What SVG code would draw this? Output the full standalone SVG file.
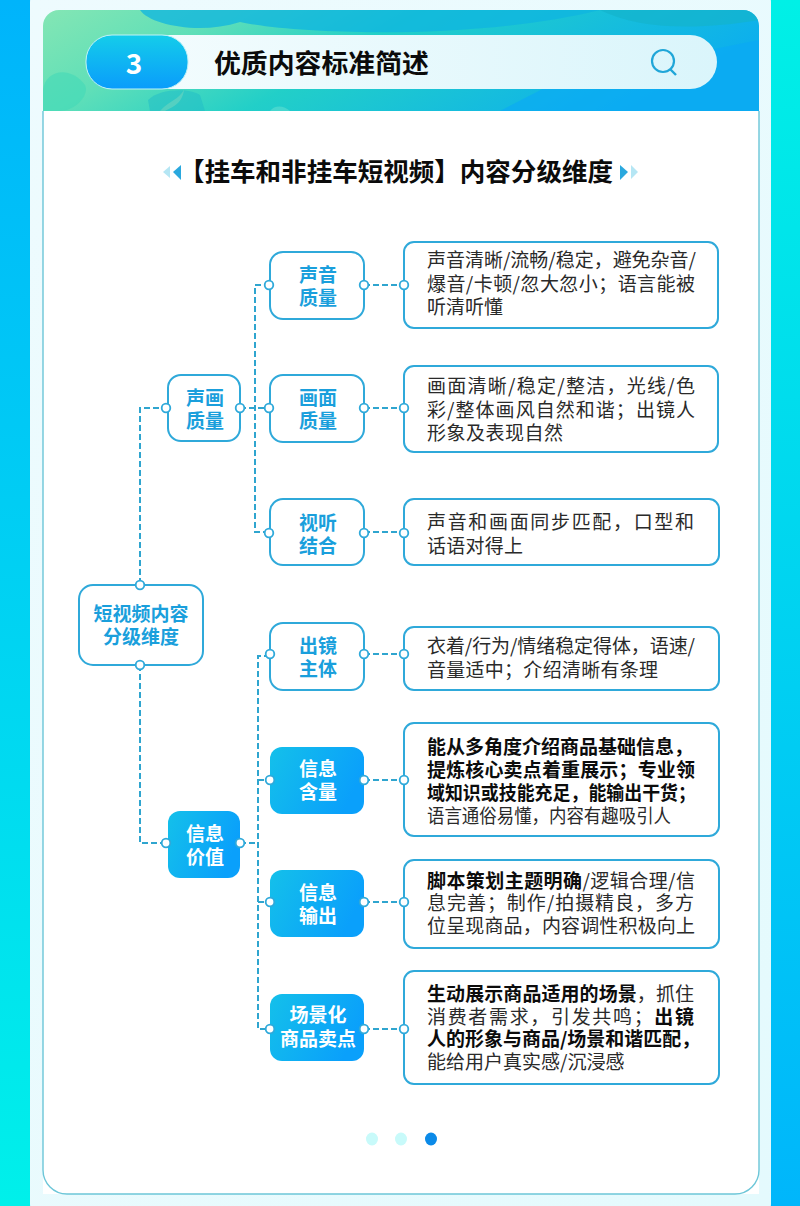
<svg xmlns="http://www.w3.org/2000/svg" width="800" height="1206" viewBox="0 0 800 1206">
<defs>
<linearGradient id="bandL" x1="0" y1="0" x2="0" y2="1"><stop offset="0" stop-color="#00b4fb"/><stop offset="1" stop-color="#00f0ea"/></linearGradient>
<linearGradient id="bandR" x1="0" y1="0" x2="0" y2="1"><stop offset="0" stop-color="#00f0e6"/><stop offset="1" stop-color="#00b6fb"/></linearGradient>
<linearGradient id="panel" x1="0" y1="0" x2="1" y2="1"><stop offset="0" stop-color="#eefbfe"/><stop offset="1" stop-color="#e4fafd"/></linearGradient>
<linearGradient id="head" x1="0" y1="0" x2="1" y2="0.25"><stop offset="0" stop-color="#84e6b4"/><stop offset="0.25" stop-color="#5fdfb8"/><stop offset="0.5" stop-color="#22cfc8"/><stop offset="1" stop-color="#0db0ec"/></linearGradient>
<linearGradient id="fill" x1="0" y1="0" x2="1" y2="0.35"><stop offset="0" stop-color="#14c0ea"/><stop offset="1" stop-color="#0aa0fb"/></linearGradient>
<linearGradient id="num" x1="0" y1="0" x2="0" y2="1"><stop offset="0" stop-color="#14cdea"/><stop offset="1" stop-color="#0a9cfb"/></linearGradient>
<linearGradient id="bar" x1="0" y1="0" x2="1" y2="0"><stop offset="0" stop-color="#f6fdfe"/><stop offset="1" stop-color="#daf5fb"/></linearGradient>
<clipPath id="headClip"><path d="M43 111V26a16 16 0 0 1 16-16H743a16 16 0 0 1 16 16V111Z"/></clipPath>
</defs>
<style>
text{font-family:"Noto Sans CJK SC","Noto Sans",sans-serif}
.n{fill:#fff;stroke:#2fa9da;stroke-width:2}
.f{fill:url(#fill)}
.a{fill:#fff;stroke:#2fa9da;stroke-width:2}
.l{font-size:19px;font-weight:700;fill:#1a9fdc;text-anchor:middle}
.lw{font-size:19px;font-weight:700;fill:#fff;text-anchor:middle}
.t{font-size:19px;fill:#2a2a2a}
.t .b,.b{font-weight:700;fill:#0c0c0c}
.c{fill:none;stroke:#2fa5cf;stroke-width:2;stroke-dasharray:6 3}
.d{fill:#fff;stroke:#2fa9da;stroke-width:1.8}
</style>
<rect width="800" height="1206" fill="#fff"/>
<rect x="0" y="0" width="31" height="1206" fill="url(#bandL)"/>
<rect x="770" y="0" width="30" height="1206" fill="url(#bandR)"/>
<rect x="30" y="-10" width="741" height="1226" rx="12" fill="url(#panel)"/>
<g id="header">
<g clip-path="url(#headClip)">
<rect x="43" y="10" width="716" height="101" fill="url(#head)"/>
<path d="M140 10C150 25 200 35 240 22C300 35 480 40 600 10Z" fill="#0fb4e0" opacity=".75"/>
<path d="M600 10C640 30 700 30 759 20V10Z" fill="#14b4cc" opacity=".7"/>
<path d="M43 90C45 70 70 65 85 85C90 95 75 111 60 111H43Z" fill="#3fd8b8" opacity=".55"/>
<path d="M160 111C170 100 178 100 184 90C182 105 170 108 165 111Z" fill="#9be8b8" opacity=".8"/>
<path d="M148 100C160 88 190 88 200 95L205 111H150Z" fill="#20bcc8" opacity=".5"/>
<path d="M500 111L560 80L759 40V111Z" fill="#0aa8f6" opacity=".6"/>
<path d="M270 111C275 104 285 106 290 111Z" fill="#55dcd0" opacity=".7"/>
</g>
<rect x="86" y="35" width="631" height="54" rx="27" fill="url(#bar)"/>
<rect x="86" y="35" width="102" height="54" rx="26" fill="url(#num)" stroke="#bff2f6" stroke-width="1"/>
<text x="134" y="74" font-size="28" font-weight="700" fill="#fff" text-anchor="middle">3</text>
<text x="214" y="73" font-size="26" font-weight="700" fill="#0b0b0b" textLength="215" lengthAdjust="spacingAndGlyphs">优质内容标准简述</text>
<circle cx="663" cy="61" r="11" fill="none" stroke="#20a6d8" stroke-width="2.2"/>
<path d="M670 69L676 75" stroke="#20a6d8" stroke-width="2.4" fill="none"/>
</g>
<rect x="43" y="111" width="716" height="1083" fill="#fff"/>
<path d="M43 111V1170a24 24 0 0 0 24 24H735a24 24 0 0 0 24-24V111" fill="none" stroke="#6cc6d8" stroke-width="1.4"/>
<g id="title">
<path d="M170 166L163 172L170 178Z" fill="#b5e6f4"/>
<path d="M181 165L173 172L181 180Z" fill="#2aa8de"/>
<text x="179" y="181" font-size="25.5" font-weight="700" fill="#0b0b0b" textLength="434" lengthAdjust="spacingAndGlyphs">【挂车和非挂车短视频】内容分级维度</text>
<path d="M620 165L628 172L620 180Z" fill="#2aa8de"/>
<path d="M631 165L638 172L631 179Z" fill="#b5e6f4"/>
</g>
<g id="connectors">
<path class="c" d="M168 408H140V585"/>
<path class="c" d="M140 665V843H168"/>
<path class="c" d="M240 408H270"/>
<path class="c" d="M270 285H255V532H270"/>
<path class="c" d="M240 843H258"/>
<path class="c" d="M270 656H258V1029H270"/>
<path class="c" d="M258 780H270"/>
<path class="c" d="M258 902H270"/>
<path class="c" d="M364 285H404"/>
<path class="c" d="M364 408H404"/>
<path class="c" d="M364 532H404"/>
<path class="c" d="M364 654H404"/>
<path class="c" d="M364 780H404"/>
<path class="c" d="M364 902H404"/>
<path class="c" d="M364 1029H404"/>
</g>
<g id="root"><rect class="n" x="79" y="585" width="124" height="80" rx="14"/><text class="l" x="141" y="621" font-size="19.5">短视频内容</text><text class="l" x="141" y="644">分级维度</text></g>
<g id="n-shenghua"><rect class="n" x="168" y="375" width="72" height="66" rx="13"/><text class="l" x="205" y="405">声画</text><text class="l" x="205" y="428">质量</text></g>
<g id="n-xinxi"><rect class="f" x="168" y="811" width="72" height="67" rx="12"/><text class="lw" x="205" y="841">信息</text><text class="lw" x="205" y="864">价值</text></g>
<g id="m1"><rect class="n" x="270" y="252" width="94" height="67" rx="13"/><text class="l" x="318" y="282">声音</text><text class="l" x="318" y="305">质量</text></g>
<g id="m2"><rect class="n" x="270" y="375" width="94" height="67" rx="13"/><text class="l" x="318" y="405">画面</text><text class="l" x="318" y="428">质量</text></g>
<g id="m3"><rect class="n" x="270" y="499" width="94" height="66" rx="13"/><text class="l" x="318" y="530">视听</text><text class="l" x="318" y="553">结合</text></g>
<g id="m4"><rect class="n" x="270" y="623" width="94" height="67" rx="13"/><text class="l" x="318" y="653">出镜</text><text class="l" x="318" y="676">主体</text></g>
<g id="m5"><rect class="f" x="270" y="747" width="94" height="67" rx="12"/><text class="lw" x="318" y="776">信息</text><text class="lw" x="318" y="799">含量</text></g>
<g id="m6"><rect class="f" x="270" y="870" width="94" height="67" rx="12"/><text class="lw" x="318" y="900">信息</text><text class="lw" x="318" y="923">输出</text></g>
<g id="m7"><rect class="f" x="270" y="994" width="94" height="67" rx="12"/><text class="lw" x="318" y="1022">场景化</text><text class="lw" x="318" y="1046">商品卖点</text></g>
<g id="a1"><rect class="a" x="404" y="242" width="314" height="86" rx="10"/><text class="t" x="427" y="267" textLength="269">声音清晰/流畅/稳定，避免杂音/</text><text class="t" x="427" y="291" textLength="268">爆音/卡顿/忽大忽小；语言能被</text><text class="t" x="427" y="314">听清听懂</text></g>
<g id="a2"><rect class="a" x="404" y="366" width="314" height="86" rx="10"/><text class="t" x="427" y="393" textLength="268">画面清晰/稳定/整洁，光线/色</text><text class="t" x="427" y="417" textLength="268">彩/整体画风自然和谐；出镜人</text><text class="t" x="427" y="440" textLength="136">形象及表现自然</text></g>
<g id="a3"><rect class="a" x="404" y="499" width="315" height="66" rx="10"/><text class="t" x="427" y="529" textLength="267">声音和画面同步匹配，口型和</text><text class="t" x="427" y="553" textLength="96">话语对得上</text></g>
<g id="a4"><rect class="a" x="404" y="627" width="315" height="63" rx="10"/><text class="t" x="427" y="653" textLength="268">衣着/行为/情绪稳定得体，语速/</text><text class="t" x="427" y="677" textLength="231">音量适中；介绍清晰有条理</text></g>
<g id="a5"><rect class="a" x="404" y="723" width="315" height="113" rx="10"/><text class="t b" x="427" y="754">能从多角度介绍商品基础信息，</text><text class="t b" x="427" y="777" textLength="268">提炼核心卖点着重展示；专业领</text><text class="t b" x="427" y="800" textLength="269" lengthAdjust="spacingAndGlyphs">域知识或技能充足，能输出干货；</text><text class="t" x="427" y="823" textLength="244" lengthAdjust="spacingAndGlyphs">语言通俗易懂，内容有趣吸引人</text></g>
<g id="a6"><rect class="a" x="404" y="860" width="315" height="88" rx="10"/><text class="t" x="427" y="888" textLength="268"><tspan class="b">脚本策划主题明确</tspan>/逻辑合理/信</text><text class="t" x="427" y="910" textLength="267">息完善；制作/拍摄精良，多方</text><text class="t" x="427" y="933" textLength="268">位呈现商品，内容调性积极向上</text></g>
<g id="a7"><rect class="a" x="404" y="971" width="315" height="113" rx="10"/><text class="t" x="427" y="1001" textLength="267"><tspan class="b">生动展示商品适用的场景</tspan>，抓住</text><text class="t" x="427" y="1024" textLength="267">消费者需求，引发共鸣；<tspan class="b">出镜</tspan></text><text class="t b" x="427" y="1046">人的形象与商品/场景和谐匹配，</text><text class="t" x="427" y="1069">能给用户真实感/沉浸感</text></g>
<g id="ports">
<circle class="d" cx="140" cy="585" r="4.3"/><circle class="d" cx="140" cy="665" r="4.3"/>
<circle class="d" cx="166" cy="408" r="4.3"/><circle class="d" cx="240" cy="408" r="4.3"/>
<circle class="d" cx="166" cy="843" r="4.3"/><circle class="d" cx="240" cy="843" r="4.3"/>
<circle class="d" cx="269" cy="285" r="4.3"/><circle class="d" cx="269" cy="408" r="4.3"/><circle class="d" cx="269" cy="533" r="4.3"/><circle class="d" cx="270" cy="654" r="4.3"/><circle class="d" cx="270" cy="780" r="4.3"/><circle class="d" cx="270" cy="902" r="4.3"/><circle class="d" cx="270" cy="1029" r="4.3"/>
<circle class="d" cx="364" cy="285" r="4.3"/><circle class="d" cx="364" cy="408" r="4.3"/><circle class="d" cx="364" cy="533" r="4.3"/><circle class="d" cx="364" cy="654" r="4.3"/><circle class="d" cx="364" cy="780" r="4.3"/><circle class="d" cx="364" cy="902" r="4.3"/><circle class="d" cx="364" cy="1029" r="4.3"/>
<circle class="d" cx="404" cy="285" r="4.3"/><circle class="d" cx="404" cy="408" r="4.3"/><circle class="d" cx="404" cy="533" r="4.3"/><circle class="d" cx="404" cy="654" r="4.3"/><circle class="d" cx="404" cy="780" r="4.3"/><circle class="d" cx="404" cy="902" r="4.3"/><circle class="d" cx="404" cy="1029" r="4.3"/>
</g>
<g id="pager"><ellipse cx="372" cy="1139" rx="6" ry="6.5" fill="#c8fafa"/><ellipse cx="401" cy="1139" rx="6" ry="6.5" fill="#c8fafa"/><ellipse cx="431" cy="1139" rx="6" ry="6.5" fill="#0b8ae8"/></g>
</svg>
